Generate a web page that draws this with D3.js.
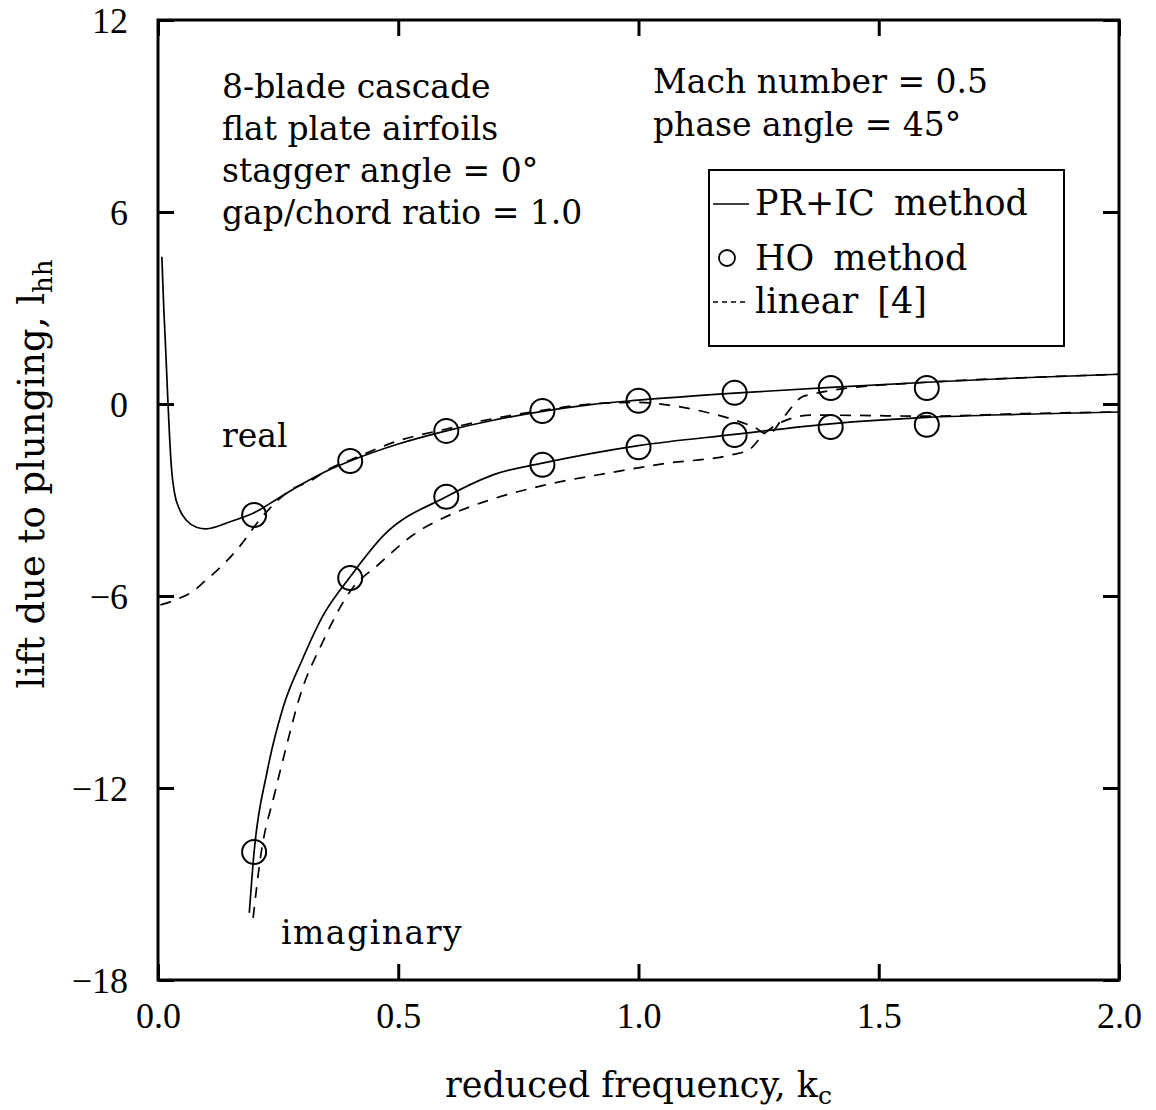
<!DOCTYPE html>
<html>
<head>
<meta charset="utf-8">
<script src="https://cdn.jsdelivr.net/npm/d3@7"></script>
<style>
  body { margin: 0; background: #fff; }
  svg { display: block; }
  .tick text { font-family: "Liberation Serif", serif; font-size: 36px; fill: #000; }
  .tick line { stroke: #000; stroke-width: 3; }
  .note { font-family: "DejaVu Serif", serif; font-size: 33px; fill: #000; }
  .title { font-family: "DejaVu Serif", serif; font-size: 35px; fill: #000; }
</style>
</head>
<body>
<div id="chart"></div>
<script>
  // HO method points (circles)
  const hoK = [0.2, 0.4, 0.6, 0.8, 1.0, 1.2, 1.4, 1.6];
  const hoReal = [-3.47, -1.78, -0.84, -0.22, 0.1, 0.35, 0.5, 0.5];
  const hoImag = [-14.0, -5.44, -2.9, -1.9, -1.35, -0.97, -0.72, -0.65];

  // PR+IC method (solid)
  const prRealK = [0.008, 0.012, 0.016, 0.02, 0.024, 0.028, 0.034, 0.045, 0.06, 0.08, 0.1, 0.15, 0.2, 0.25, 0.3, 0.35, 0.4, 0.5, 0.6, 0.7, 0.8, 0.9, 1.0, 1.2, 1.4, 1.6, 1.8, 2.0];
  const prReal = [4.6, 3.0, 1.7, 0.3, -1.0, -2.0, -2.75, -3.3, -3.65, -3.85, -3.9, -3.68, -3.4, -2.95, -2.5, -2.1, -1.78, -1.25, -0.84, -0.5, -0.23, -0.02, 0.12, 0.34, 0.52, 0.68, 0.82, 0.93];
  const prImagK = [0.19, 0.2, 0.227, 0.26, 0.3, 0.344, 0.4, 0.47, 0.6, 0.7, 0.8, 0.9, 1.0, 1.2, 1.4, 1.6, 1.8, 2.0];
  const prImag = [-15.9, -14.0, -11.5, -9.5, -8.0, -6.6, -5.4, -4.1, -2.9, -2.2, -1.85, -1.55, -1.3, -0.95, -0.62, -0.42, -0.32, -0.25];

  // linear [4] (dashed)
  const linRealK = [0.005, 0.04, 0.073, 0.1, 0.123, 0.17, 0.21, 0.275, 0.317, 0.36, 0.4, 0.5, 0.6, 0.7, 0.8, 0.9, 1.0, 1.06, 1.13, 1.2, 1.24, 1.27, 1.3, 1.34, 1.36, 1.4, 1.6, 1.8, 2.0];
  const linReal = [-6.28, -6.1, -5.85, -5.5, -5.2, -4.45, -3.65, -2.7, -2.4, -2.0, -1.75, -1.15, -0.78, -0.45, -0.2, 0.0, 0.05, -0.03, -0.22, -0.5, -0.72, -0.95, -0.45, 0.22, 0.3, 0.42, 0.68, 0.82, 0.93];
  const linImagK = [0.198, 0.213, 0.244, 0.268, 0.296, 0.344, 0.4, 0.46, 0.53, 0.61, 0.68, 0.8, 0.94, 1.06, 1.19, 1.23, 1.26, 1.3, 1.36, 1.4, 1.6, 1.8, 2.0];
  const linImag = [-16.06, -14.2, -12.1, -10.65, -9.1, -7.4, -5.85, -5.0, -4.1, -3.45, -3.05, -2.55, -2.15, -1.85, -1.6, -1.43, -0.95, -0.55, -0.35, -0.35, -0.38, -0.3, -0.25];

  const xTicks = [0.0, 0.5, 1.0, 1.5, 2.0];
  const yTicks = [12, 6, 0, -6, -12, -18];

  const infoLeft = ["8-blade cascade", "flat plate airfoils", "stagger angle = 0°", "gap/chord ratio = 1.0"];
  const infoRight = ["Mach number = 0.5", "phase angle = 45°"];
  const legendLabels = ["PR+IC method", "HO method", "linear [4]"];

  const width = 1156, height = 1110;
  const margins = { left: 158, right: 37, top: 20, bottom: 130 };

  const svg = d3.select("#chart").append("svg")
    .attr("width", width)
    .attr("height", height);

  const x = d3.scaleLinear().domain([0, 2]).range([margins.left, width - margins.right]);
  const y = d3.scaleLinear().domain([-18, 12]).range([height - margins.bottom, margins.top]);

  const fmtX = d3.format(".1f");
  const fmtY = function(d) { return d < 0 ? "\u2212" + Math.abs(d) : d; };
  const tick = 16;

  // axes with inward ticks
  const gBottom = svg.append("g")
    .attr("transform", "translate(0," + y(-18) + ")")
    .call(d3.axisBottom(x).tickValues(xTicks).tickFormat(fmtX).tickSizeInner(-tick).tickSizeOuter(0).tickPadding(22));
  const gLeft = svg.append("g")
    .attr("transform", "translate(" + x(0) + ",0)")
    .call(d3.axisLeft(y).tickValues(yTicks).tickFormat(fmtY).tickSizeInner(-tick).tickSizeOuter(0).tickPadding(30));
  svg.append("g")
    .attr("transform", "translate(0," + y(12) + ")")
    .call(d3.axisTop(x).tickValues(xTicks).tickFormat("").tickSizeInner(-tick).tickSizeOuter(0));
  svg.append("g")
    .attr("transform", "translate(" + x(2) + ",0)")
    .call(d3.axisRight(y).tickValues(yTicks).tickFormat("").tickSizeInner(-tick).tickSizeOuter(0));

  svg.selectAll(".domain").remove();
  gBottom.selectAll(".tick text").attr("dy", "0.71em");
  gLeft.selectAll(".tick text").attr("dy", "0.36em");

  // frame
  svg.append("rect")
    .attr("x", x(0)).attr("y", y(12))
    .attr("width", x(2) - x(0)).attr("height", y(-18) - y(12))
    .attr("fill", "none").attr("stroke", "#000").attr("stroke-width", 3);

  const line = d3.line()
    .x(function(d) { return x(d[0]); })
    .y(function(d) { return y(d[1]); })
    .curve(d3.curveMonotoneX);

  const zip = function(a, b) { return a.map(function(v, i) { return [v, b[i]]; }); };

  const plot = svg.append("g");
  [[prRealK, prReal], [prImagK, prImag]].forEach(function(s) {
    plot.append("path").attr("d", line(zip(s[0], s[1])))
      .attr("fill", "none").attr("stroke", "#000").attr("stroke-width", 1.7);
  });
  [[linRealK, linReal], [linImagK, linImag]].forEach(function(s) {
    plot.append("path").attr("d", line(zip(s[0], s[1])))
      .attr("fill", "none").attr("stroke", "#000").attr("stroke-width", 1.7)
      .attr("stroke-dasharray", "11,9");
  });

  plot.selectAll("circle.ho")
    .data(zip(hoK, hoReal).concat(zip(hoK, hoImag)))
    .enter().append("circle")
    .attr("class", "ho")
    .attr("cx", function(d) { return x(d[0]); })
    .attr("cy", function(d) { return y(d[1]); })
    .attr("r", 12)
    .attr("fill", "none").attr("stroke", "#000").attr("stroke-width", 2);

  // annotations
  svg.selectAll("text.infoL").data(infoLeft).enter().append("text")
    .attr("class", "note").attr("x", 222).attr("y", function(d, i) { return 98 + i * 42; })
    .text(function(d) { return d; });
  svg.selectAll("text.infoR").data(infoRight).enter().append("text")
    .attr("class", "note").attr("x", 653).attr("y", function(d, i) { return 93 + i * 43; })
    .text(function(d) { return d; });

  svg.append("text").attr("class", "note").attr("x", 222).attr("y", 447).text("real");
  svg.append("text").attr("class", "note").attr("x", 281).attr("y", 944)
    .attr("letter-spacing", 1.5).text("imaginary");

  // legend
  const lg = svg.append("g");
  lg.append("rect").attr("x", 709).attr("y", 170).attr("width", 355).attr("height", 176)
    .attr("fill", "#fff").attr("stroke", "#000").attr("stroke-width", 2);
  lg.append("line").attr("x1", 713).attr("x2", 749).attr("y1", 204).attr("y2", 204)
    .attr("stroke", "#000").attr("stroke-width", 1.7);
  lg.append("circle").attr("cx", 727).attr("cy", 258).attr("r", 8)
    .attr("fill", "none").attr("stroke", "#000").attr("stroke-width", 1.8);
  lg.append("line").attr("x1", 713).attr("x2", 749).attr("y1", 302).attr("y2", 302)
    .attr("stroke", "#000").attr("stroke-width", 1.5).attr("stroke-dasharray", "5,4");
  const legendY = [215, 270, 313];
  lg.selectAll("text").data(legendLabels).enter().append("text")
    .attr("class", "note").attr("x", 755).attr("y", function(d, i) { return legendY[i]; })
    .style("font-size", "35px")
    .attr("word-spacing", 8)
    .text(function(d) { return d; });

  // axis titles
  const xt = svg.append("text").attr("class", "title")
    .attr("x", x(1)).attr("y", 1097).attr("text-anchor", "middle");
  xt.append("tspan").text("reduced frequency, k");
  xt.append("tspan").attr("font-size", "25px").attr("dy", 7).text("c");

  const yt = svg.append("text").attr("class", "title")
    .attr("transform", "translate(44," + 474 + ") rotate(-90)")
    .attr("text-anchor", "middle")
    .style("font-size", "37px");
  yt.append("tspan").text("lift due to plunging,  l");
  yt.append("tspan").attr("font-size", "26px").attr("dy", 8).text("hh");
</script>
</body>
</html>
